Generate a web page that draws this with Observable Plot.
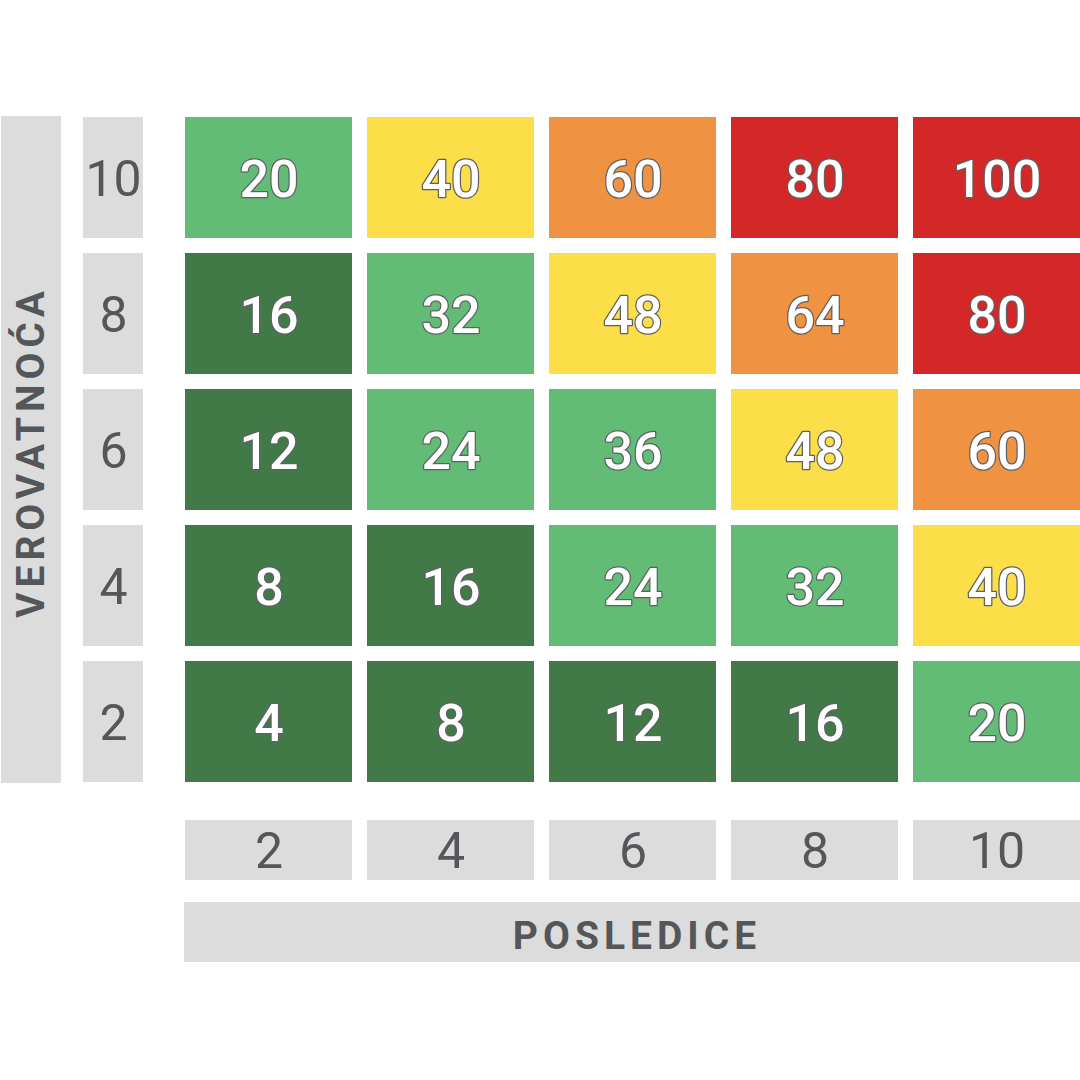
<!DOCTYPE html>
<html>
<head>
<meta charset="utf-8">
<script src="https://cdn.jsdelivr.net/npm/d3@7"></script>
<script src="https://cdn.jsdelivr.net/npm/@observablehq/plot@0.6"></script>
<style>
  html, body { margin: 0; padding: 0; background: #ffffff; }
</style>
</head>
<body>
<div id="chart"></div>
<script>
// Consequences (x) and likelihood (y) categories
const consequences = [2, 4, 6, 8, 10];
const likelihoods = [10, 8, 6, 4, 2];
// Risk scores as read from the matrix, rows top (10) to bottom (2)
const row10 = [20, 40, 60, 80, 100];
const row8  = [16, 32, 48, 64, 80];
const row6  = [12, 24, 36, 48, 60];
const row4  = [8, 16, 24, 32, 40];
const row2  = [4, 8, 12, 16, 20];
const scoreRows = [row10, row8, row6, row4, row2];
// Risk level thresholds and colours
const levelThresholds = [20, 40, 60, 80];
const levelColors = ["#427a47", "#62bc76", "#fcde48", "#ef9242", "#d42828"];
const xTitle = "POSLEDICE";
const yTitle = "VEROVATNOĆA";

const cells = [];
scoreRows.forEach((row, i) => row.forEach((v, j) => cells.push({x: consequences[j], y: likelihoods[i], v})));

const boxGray = "#dcdcdc";
const textGray = "#54565a";

const chart = Plot.plot({
  width: 1080,
  height: 1080,
  marginLeft: 184,
  marginRight: 0,
  marginTop: 116,
  marginBottom: 297,
  style: {fontFamily: "Roboto, 'Open Sans', sans-serif", background: "#ffffff"},
  x: {type: "band", domain: consequences, paddingInner: 0.0837, paddingOuter: 0, axis: null},
  y: {type: "band", domain: likelihoods, paddingInner: 0.1136, paddingOuter: 0, axis: null},
  color: {type: "threshold", domain: levelThresholds, range: levelColors},
  marks: [
    // y-title box spanning all rows
    Plot.cell([yTitle], {x: () => consequences[0], fill: boxGray, dx: -184, insetRight: 107}),
    Plot.text([yTitle], {x: () => consequences[0], text: d => d, rotate: -90, dx: -237.5, dy: 2,
      fontSize: 39, fontWeight: 700, fill: textGray}),
    // y tick boxes and labels
    Plot.cell(likelihoods, {x: () => consequences[0], y: d => d, fill: boxGray, dx: -102, insetRight: 107}),
    Plot.text(likelihoods, {x: () => consequences[0], y: d => d, text: d => String(d), dx: -155.5, dy: 2,
      fontSize: 50, fontWeight: 400, fill: textGray}),
    // x tick boxes and labels
    Plot.cell(consequences, {x: d => d, y: () => likelihoods[4], fill: boxGray, dy: 159, insetBottom: 61}),
    Plot.text(consequences, {x: d => d, y: () => likelihoods[4], text: d => String(d), dy: 130,
      fontSize: 50, fontWeight: 400, fill: textGray}),
    // x-title box spanning all columns
    Plot.cell([xTitle], {y: () => likelihoods[4], fill: boxGray, dy: 241, insetBottom: 61}),
    Plot.text([xTitle], {y: () => likelihoods[4], text: d => d, dy: 215, dx: 4.5,
      fontSize: 39, fontWeight: 700, fill: textGray}),
    // risk matrix cells
    Plot.cell(cells, {x: "x", y: "y", fill: "v"}),
    Plot.text(cells, {x: "x", y: "y", text: d => String(d.v), dy: 2,
      fontSize: 52, fontWeight: 500, fill: "white", stroke: "#5e6064", strokeWidth: 2.5, paintOrder: "stroke"})
  ]
});

// letter-spacing for the two axis titles
d3.select(chart).selectAll("text")
  .filter(function () { return this.textContent === xTitle || this.textContent === yTitle; })
  .style("letter-spacing", "5px");

document.getElementById("chart").appendChild(chart);
</script>
</body>
</html>
